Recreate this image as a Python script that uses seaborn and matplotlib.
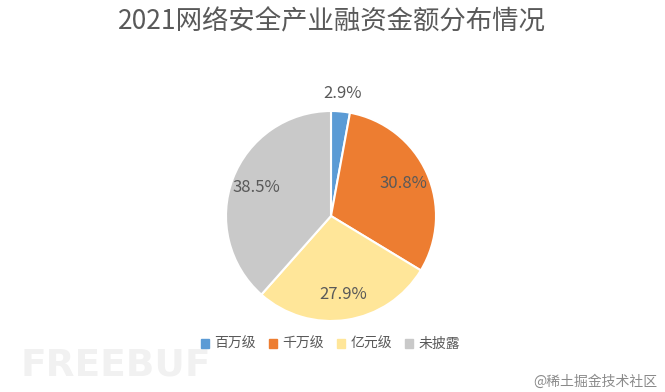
import matplotlib
matplotlib.use("Agg")
import matplotlib.pyplot as plt
import numpy as np
import seaborn as sns

title = "2021网络安全产业融资金额分布情况"
categories = ["百万级", "千万级", "亿元级", "未披露"]
shares = [2.9, 30.8, 27.9, 38.5]
colors = ["#5B9BD5", "#ED7D31", "#FFE699", "#C9C9C9"]

sns.set_theme(style="white")
plt.rcParams["font.family"] = ["Noto Sans CJK SC", "DejaVu Sans"]

W, H = 665, 392
fig = plt.figure(figsize=(W / 100, H / 100), dpi=100)
fig.patch.set_facecolor("white")

# pie centre at (331, 216) px, radius 105 px
cx, cy, r = 331, 216, 105
ax = fig.add_axes([(cx - r) / W, (H - cy - r) / H, 2 * r / W, 2 * r / H])
wedges, _ = ax.pie(
    shares,
    colors=colors,
    startangle=90,
    counterclock=False,
    radius=1,
    wedgeprops=dict(edgecolor="white", linewidth=1.5),
)
ax.set_xlim(-1, 1)
ax.set_ylim(-1, 1)
ax.set_aspect("equal")
ax.axis("off")

# data labels, placed along each wedge's mid angle
total = sum(shares)
for w, v in zip(wedges, shares):
    ang = np.deg2rad((w.theta1 + w.theta2) / 2)
    dist = 1.17 if v / total < 0.05 else 0.76
    ax.text(dist * np.cos(ang), dist * np.sin(ang), f"{v}%",
            ha="center", va="center", fontsize=12, color="#595959")

fig.text(332 / W, 1 - 22 / H, title, ha="center", va="center",
         fontsize=19, color="#595959", fontweight="light")

handles = [plt.Rectangle((0, 0), 1, 1, color=c) for c in colors]
fig.legend(handles, categories, loc="center", bbox_to_anchor=(0.497, 1 - 344 / H),
           ncol=4, frameon=False, fontsize=10, handlelength=0.6, handleheight=0.6,
           handletextpad=0.4, columnspacing=0.9, labelcolor="#595959")

# watermarks
fig.text(20 / W, 1 - 366 / H, "FREEBUF", ha="left", va="center", fontsize=27,
         fontweight="bold", color="#F1F1F1", family=["DejaVu Sans"], zorder=0)
fig.text(657 / W, 1 - 382 / H, "@稀土掘金技术社区", ha="right", va="center",
         fontsize=10, color="#8A8A8A")

fig.savefig("out.png", dpi=100, facecolor="white")
